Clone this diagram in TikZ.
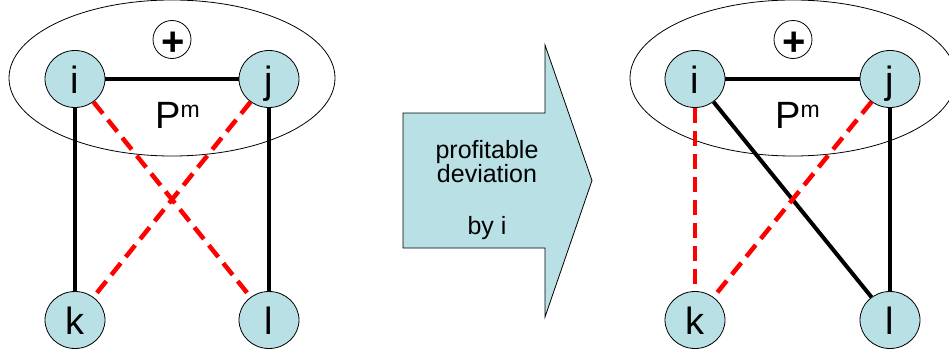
\documentclass[tikz,border=0pt]{standalone}
\usepackage{fontspec}
\setmainfont{Liberation Sans}
\usetikzlibrary{shapes.geometric}
\definecolor{nodefill}{RGB}{185,224,228}
\begin{document}
\begin{tikzpicture}[x=1pt,y=-1pt,
  agent/.style={ellipse,draw,fill=nodefill,minimum width=60pt,minimum height=57pt,inner sep=0pt,
    font=\fontsize{38}{38}\selectfont,text height=28pt,text depth=0pt,line width=0.8pt},
  tie/.style={line width=4pt},
  gone/.style={line width=4.5pt,red,dash pattern=on 15pt off 8pt},
  group/.style={ellipse,draw,line width=0.8pt,minimum width=326pt,minimum height=156pt,inner sep=0pt},
  plusring/.style={circle,draw,line width=0.8pt,minimum size=38pt,inner sep=0pt},
  plusglyph/.style={inner sep=0pt,font=\fontsize{40}{40}\selectfont\bfseries},
  pm/.style={anchor=base west,inner sep=0pt},
  arrowtext/.style={anchor=base,inner sep=0pt,font=\fontsize{25}{25}\selectfont},
]
\useasboundingbox (0,0) rectangle (949,356);
% left panel
\node[group] (G1) at (172,78) {};
\node[plusring] (ring1) at (172,39.5) {};
\node[plusglyph] (plus1) at (173,43.8) {+};
\node[pm] (pm1) at (155,128) {\fontsize{38}{38}\selectfont P\raisebox{11pt}{\fontsize{23}{23}\selectfont m}};
\node[agent] (i1) at (75,79) {i};
\node[agent] (j1) at (269,79) {j};
\node[agent] (k1) at (75,320) {k};
\node[agent] (l1) at (269,320) {l};
\draw[tie] (i1) -- (j1);
\draw[tie] (i1) -- (k1);
\draw[tie] (j1) -- (l1);
\draw[gone] (i1) -- (l1);
\draw[gone] (j1) -- (k1);
% arrow
\draw[fill=nodefill,line width=0.8pt] (403,113) -- (545,113) -- (545,45) -- (592,180.5)
  -- (545,317) -- (545,248) -- (403,248) -- cycle;
\node[arrowtext] (t1) at (487,158) {profitable};
\node[arrowtext] (t2) at (487,182) {deviation};
\node[arrowtext] (t3) at (487,234) {by i};
% right panel
\node[group] (G2) at (793,78) {};
\node[plusring] (ring2) at (793,39.5) {};
\node[plusglyph] (plus2) at (794,43.8) {+};
\node[pm] (pm2) at (775,128) {\fontsize{38}{38}\selectfont P\raisebox{11pt}{\fontsize{23}{23}\selectfont m}};
\node[agent] (i2) at (695,79) {i};
\node[agent] (j2) at (890,79) {j};
\node[agent] (k2) at (695,320) {k};
\node[agent] (l2) at (890,320) {l};
\draw[tie] (i2) -- (j2);
\draw[tie] (i2) -- (l2);
\draw[tie] (j2) -- (l2);
\draw[gone] (i2) -- (k2);
\draw[gone] (j2) -- (k2);
\end{tikzpicture}
\end{document}
